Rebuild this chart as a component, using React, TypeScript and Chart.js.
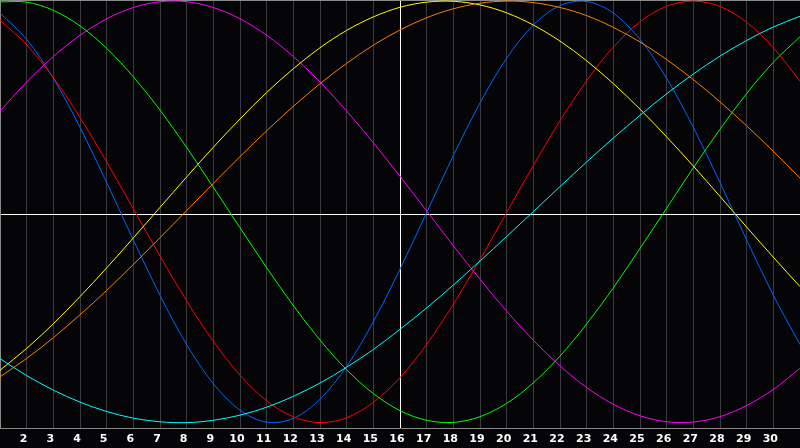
import React, { useEffect, useRef } from "react";
import { Chart, registerables } from "chart.js";

Chart.register(...registerables);

const xValues = [1, 2, 3, 4, 5, 6, 7, 8, 9, 10, 11, 12, 13, 14, 15, 16, 17, 18, 19, 20, 21, 22, 23, 24, 25, 26, 27, 28, 29, 30, 31];

const greenValues = [0.991, 0.99, 0.952, 0.879, 0.774, 0.641, 0.486, 0.311, 0.125, -0.064, -0.251, -0.428, -0.589, -0.728, -0.839, -0.919, -0.964, -0.974, -0.947, -0.885, -0.789, -0.664, -0.514, -0.345, -0.161, 0.027, 0.216, 0.396, 0.563, 0.709, 0.828];
const magentaValues = [0.481, 0.617, 0.736, 0.835, 0.912, 0.965, 0.992, 0.992, 0.965, 0.912, 0.835, 0.736, 0.617, 0.481, 0.333, 0.176, 0.014, -0.148, -0.305, -0.454, -0.59, -0.71, -0.811, -0.889, -0.943, -0.971, -0.972, -0.947, -0.895, -0.82, -0.721];
const blueValues = [0.939, 0.816, 0.634, 0.405, 0.147, -0.121, -0.38, -0.61, -0.793, -0.917, -0.973, -0.955, -0.866, -0.712, -0.504, -0.258, 0.007, 0.273, 0.519, 0.728, 0.883, 0.974, 0.993, 0.939, 0.816, 0.634, 0.405, 0.147, -0.121, -0.38, -0.61];
const redValues = [0.905, 0.791, 0.637, 0.452, 0.244, 0.024, -0.196, -0.406, -0.595, -0.753, -0.873, -0.948, -0.975, -0.952, -0.88, -0.765, -0.609, -0.422, -0.213, 0.007, 0.227, 0.436, 0.623, 0.78, 0.898, 0.971, 0.995, 0.97, 0.896, 0.777, 0.62];
const yellowValues = [-0.73, -0.628, -0.513, -0.386, -0.252, -0.112, 0.031, 0.173, 0.312, 0.444, 0.568, 0.679, 0.777, 0.858, 0.921, 0.966, 0.99, 0.994, 0.977, 0.94, 0.883, 0.808, 0.716, 0.609, 0.49, 0.36, 0.224, 0.082, -0.061, -0.202, -0.339];
const orangeValues = [-0.761, -0.675, -0.578, -0.471, -0.357, -0.236, -0.111, 0.016, 0.143, 0.268, 0.389, 0.503, 0.609, 0.704, 0.789, 0.86, 0.917, 0.959, 0.985, 0.995, 0.988, 0.965, 0.927, 0.872, 0.804, 0.722, 0.628, 0.524, 0.412, 0.293, 0.168];
const cyanValues = [-0.676, -0.755, -0.823, -0.879, -0.923, -0.954, -0.971, -0.975, -0.964, -0.94, -0.903, -0.852, -0.79, -0.716, -0.633, -0.539, -0.439, -0.332, -0.22, -0.105, 0.011, 0.128, 0.243, 0.355, 0.461, 0.562, 0.654, 0.738, 0.811, 0.874, 0.924];

const seriesList = [
  { name: "cyan", values: cyanValues, color: "#00ffff" },
  { name: "orange", values: orangeValues, color: "#ff8000" },
  { name: "yellow", values: yellowValues, color: "#ffff00" },
  { name: "green", values: greenValues, color: "#00ff00" },
  { name: "magenta", values: magentaValues, color: "#ff00ff" },
  { name: "red", values: redValues, color: "#ff0000" },
  { name: "blue", values: blueValues, color: "#0066ff" },
];

const X_MIN = 1;
const X_MAX = 31;
const MARKED_X = 16;

export default function App() {
  const canvasRef = useRef<HTMLCanvasElement | null>(null);

  useEffect(() => {
    const canvas = canvasRef.current;
    if (!canvas) return;
    const chart = new Chart(canvas, {
      type: "line",
      data: {
        datasets: seriesList.map((s) => ({
          label: s.name,
          data: xValues.map((x, i) => ({ x, y: s.values[i] })),
          borderColor: s.color,
          borderWidth: 1,
          pointRadius: 0,
          tension: 0.33,
          fill: false,
        })),
      },
      options: {
        animation: false,
        responsive: false,
        devicePixelRatio: 1,
        layout: { padding: 0 },
        plugins: { legend: { display: false }, tooltip: { enabled: false } },
        scales: {
          x: {
            type: "linear",
            min: X_MIN,
            max: X_MAX,
            border: { display: true, color: "#8a8a8a", width: 1 },
            grid: {
              drawTicks: true,
              tickLength: 5,
              tickColor: "rgba(0,0,0,0)",
              lineWidth: 1,
              color: (ctx: any) => {
                const v = ctx.tick ? ctx.tick.value : null;
                if (v === MARKED_X) return "#ffffff";
                if (v === X_MIN || v === X_MAX) return "rgba(0,0,0,0)";
                return "#3a3a40";
              },
            },
            ticks: {
              stepSize: 1,
              autoSkip: false,
              maxRotation: 0,
              padding: 0,
              labelOffset: -3,
              color: "#ffffff",
              font: { family: "DejaVu Sans", size: 11, weight: "bold" },
              callback: (v: any) => (v === X_MIN || v === X_MAX ? "" : String(v)),
            },
            afterFit: (scale: any) => {
              scale.height = 20;
              scale.paddingLeft = 0;
              scale.paddingRight = 0;
            },
          },
          x2: {
            type: "linear",
            position: "top",
            min: X_MIN,
            max: X_MAX,
            border: { display: true, color: "#8a8a8a", width: 1 },
            grid: { display: false, drawTicks: false },
            ticks: { display: false, padding: 0 },
            afterFit: (scale: any) => {
              scale.height = 0;
              scale.paddingLeft = 0;
              scale.paddingRight = 0;
            },
          },
          y: {
            type: "linear",
            min: -1,
            max: 1,
            border: { display: true, color: "#8a8a8a", width: 1 },
            grid: {
              drawTicks: false,
              color: (ctx: any) => (ctx.tick && ctx.tick.value === 0 ? "#ffffff" : "rgba(0,0,0,0)"),
            },
            ticks: { display: false, stepSize: 1, padding: 0 },
            afterFit: (scale: any) => {
              scale.width = 0;
            },
          },
        },
      },
    });
    return () => chart.destroy();
  }, []);

  return (
    <div
      style={{
        position: "absolute",
        left: 0,
        top: 0,
        width: 800,
        height: 448,
        background: "#050508",
      }}
    >
      <canvas ref={canvasRef} width={800} height={448} style={{ display: "block" }} />
    </div>
  );
}
